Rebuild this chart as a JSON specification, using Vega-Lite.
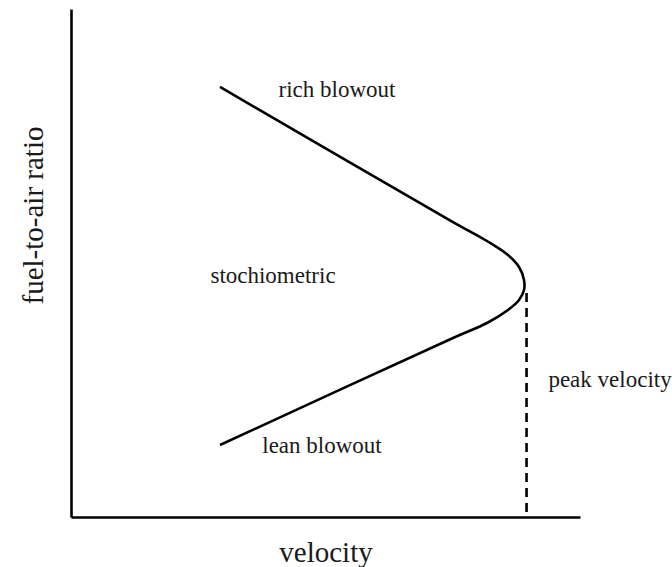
{
  "$schema": "https://vega.github.io/schema/vega-lite/v6.json",
  "autosize": "none",
  "width": 509,
  "height": 508,
  "padding": {"left": 71, "top": 9, "right": 92, "bottom": 50},
  "background": "white",
  "config": {"view": {"stroke": null}},
  "datasets": {
    "curve": [
      {"o": 1, "v": 29.27, "r": 84.65},
      {"o": 2, "v": 75.05, "r": 58.07},
      {"o": 3, "v": 81.73, "r": 54.33},
      {"o": 4, "v": 85.85, "r": 51.57},
      {"o": 5, "v": 88.02, "r": 49.21},
      {"o": 6, "v": 89.0, "r": 46.65},
      {"o": 7, "v": 89.0, "r": 44.69},
      {"o": 8, "v": 88.02, "r": 42.72},
      {"o": 9, "v": 85.85, "r": 40.75},
      {"o": 10, "v": 81.73, "r": 38.19},
      {"o": 11, "v": 75.05, "r": 35.24},
      {"o": 12, "v": 29.27, "r": 14.17}
    ],
    "peak": [
      {"v": 89.5, "r": 44.09},
      {"v": 89.5, "r": 0.8}
    ],
    "labels": [
      {"label": "rich blowout", "v": 52.26, "r": 82.68},
      {"label": "stochiometric", "v": 39.69, "r": 46.06},
      {"label": "lean blowout", "v": 49.31, "r": 12.6},
      {"label": "peak velocity", "v": 105.9, "r": 25.59}
    ]
  },
  "layer": [
    {
      "data": {"name": "curve"},
      "mark": {"type": "line", "color": "black", "strokeWidth": 2.6, "interpolate": "catmull-rom"},
      "encoding": {
        "x": {"field": "v", "type": "quantitative", "scale": {"domain": [0, 100]},
          "axis": {"title": "velocity", "ticks": false, "labels": false, "grid": false,
            "domainColor": "black", "domainWidth": 2.6,
            "titleFont": "Liberation Serif", "titleFontSize": 29, "titleFontWeight": "normal",
            "titleColor": "#1a1a1a", "titleBaseline": "alphabetic", "titleY": 44}},
        "y": {"field": "r", "type": "quantitative", "scale": {"domain": [0, 100]},
          "axis": {"title": "fuel-to-air ratio", "ticks": false, "labels": false, "grid": false,
            "domainColor": "black", "domainWidth": 2.6,
            "titleFont": "Liberation Serif", "titleFontSize": 29, "titleFontWeight": "normal",
            "titleColor": "#1a1a1a", "titleAngle": -90, "titleAlign": "center",
            "titleBaseline": "alphabetic", "titleX": -29, "titleY": 206}},
        "order": {"field": "o", "type": "quantitative"}
      }
    },
    {
      "data": {"name": "peak"},
      "mark": {"type": "line", "color": "black", "strokeWidth": 2.6, "strokeDash": [9, 6]},
      "encoding": {
        "x": {"field": "v", "type": "quantitative"},
        "y": {"field": "r", "type": "quantitative"}
      }
    },
    {
      "data": {"name": "labels"},
      "mark": {"type": "text", "font": "Liberation Serif", "fontSize": 23, "color": "#1a1a1a",
        "align": "center", "baseline": "alphabetic"},
      "encoding": {
        "x": {"field": "v", "type": "quantitative"},
        "y": {"field": "r", "type": "quantitative"},
        "text": {"field": "label"}
      }
    }
  ]
}
